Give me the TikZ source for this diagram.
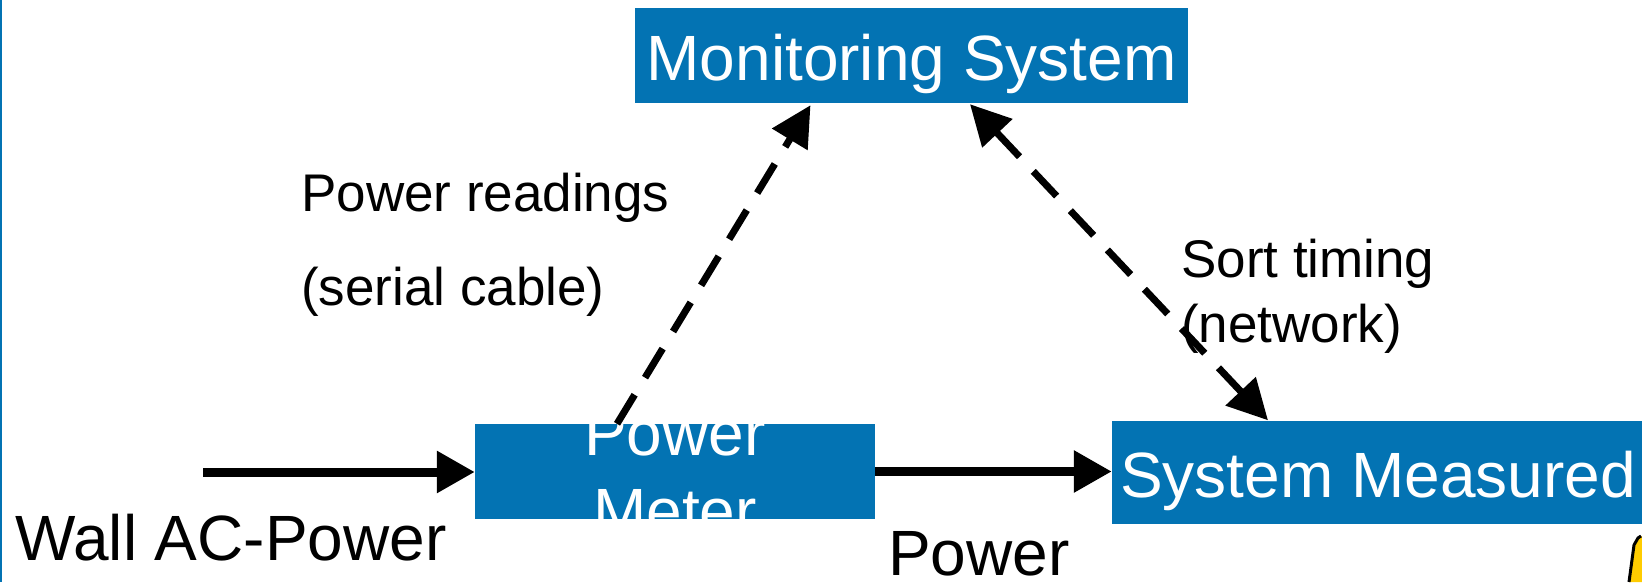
\documentclass[tikz,border=0pt]{standalone}
\usepackage{fontspec}
\setmainfont{Liberation Sans}
\usetikzlibrary{arrows.meta,calc}
\definecolor{boxblue}{HTML}{0373B3}
\definecolor{clipyellow}{HTML}{FFCC00}
\tikzset{
  bluebox/.style={fill=boxblue, draw=none, inner sep=0pt, text=white,
    text height=50pt, text depth=0pt,
    font=\fontsize{64}{78}\selectfont},
  biglabel/.style={inner sep=0pt, font=\fontsize{64}{78}\selectfont, anchor=base west},
  smalllabel/.style={inner sep=0pt, font=\fontsize{53}{62}\selectfont, anchor=base west},
  flow/.style={line width=9pt, -{Triangle[length=38pt,width=40pt]}},
  dataflow/.style={line width=7pt, dash pattern=on 34pt off 20pt,
    -{Triangle[length=40pt,width=40pt]}},
  dataflowboth/.style={line width=7pt, dash pattern=on 34pt off 20pt,
    {Triangle[length=40pt,width=40pt]}-{Triangle[length=40pt,width=40pt]}}
}
\begin{document}
\begin{tikzpicture}[x=1pt,y=-1pt]
\useasboundingbox[fill=white] (0,0) rectangle (1642,582);
% slide edge and clip-art fragment
\draw[boxblue, line width=2pt] (1,0) -- (1,582);
\fill[clipyellow] (1629,582) -- (1634,545) -- (1638,538) -- (1642,536) -- (1642,582) -- cycle;
\draw[line width=3pt, black] (1629,582) -- (1634,545) -- (1638,538) -- (1641,536);
% boxes
\node[bluebox, minimum width=553pt, minimum height=95pt] (mon) at (911.5,55.5) {Monitoring System};
\node[bluebox, minimum width=400pt, minimum height=95pt] (pm) at (675,471.5) {};
\begin{scope}
  \clip (pm.south west) rectangle (pm.north east);
  \node[inner sep=0pt, text=white, align=center, font=\fontsize{64}{78}\selectfont] (pmtext) at (675,473) {Power\\Meter};
\end{scope}
\node[bluebox, minimum width=532pt, minimum height=103pt] (sm) at (1378,472) {System Measured};
% labels
\node[biglabel] (wall) at (15,560) {Wall AC-Power};
\node[biglabel] (powlbl) at (888,575) {Power};
\node[smalllabel] (pr1) at (301,211) {Power readings};
\node[smalllabel] (pr2) at (301,305) {(serial cable)};
\node[smalllabel] (st1) at (1181,277) {Sort timing};
\node[smalllabel] (st2) at (1181,342) {(network)};
% connectors
\coordinate (wallstart) at (203,472);
\draw[flow] (wallstart) -- (wallstart -| pm.west);
\draw[flow] (pm.east) -- (pm.east -| sm.west);
\draw[dataflow] ([xshift=-58pt]pm.north) -- ([xshift=-101pt,yshift=-2pt]mon.south);
\draw[dataflowboth] ([xshift=58.5pt,yshift=-1pt]mon.south) -- ([xshift=-110pt]sm.north);
\end{tikzpicture}
\end{document}
